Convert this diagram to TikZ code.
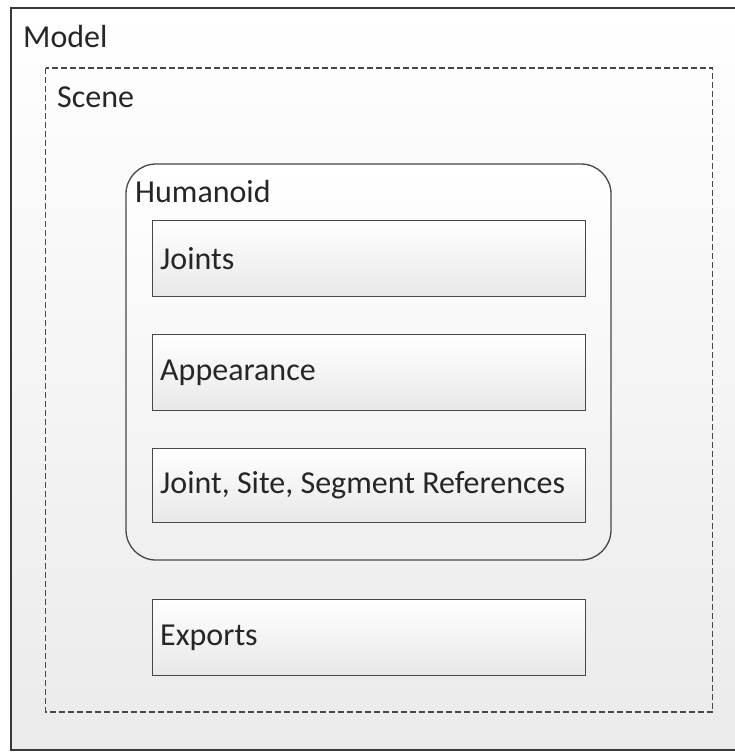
\documentclass[tikz,border=0pt]{standalone}
\usepackage{fontspec}
\setmainfont{Carlito}
\begin{document}
\begin{tikzpicture}[x=1pt,y=-1pt,
  lbl/.style={inner sep=0pt, anchor=base west, text=black!85, font=\fontsize{32}{38}\selectfont},
  itembox/.style={draw=black!72, line width=1.3pt, top color=white, bottom color=black!9, inner sep=0pt},
]
\useasboundingbox (0,0) rectangle (735,754);
\fill[white] (0,0) rectangle (735,754);
% Model
\path[draw=black!78, line width=1.4pt, top color=white, bottom color=black!8] (11,8) rectangle (736,750);
\node[lbl] (modellbl) at (23,48) {Model};
% Scene
\path[draw=black!72, line width=1.3pt, dash pattern=on 6pt off 3pt] (45.5,68) rectangle (712.5,712);
\node[lbl] (scenelbl) at (57,108) {Scene};
% Humanoid
\path[draw=black!72, line width=1.3pt, rounded corners=30pt, top color=white, bottom color=black!6] (126,164) rectangle (611,560);
\node[lbl] (humlbl) at (135,202) {Humanoid};
% inner boxes
\node[itembox, minimum width=433pt, minimum height=76pt, anchor=north west] (joints) at (152,220) {};
\node[itembox, minimum width=433pt, minimum height=76pt, anchor=north west] (app) at (152,334) {};
\node[itembox, minimum width=433pt, minimum height=74pt, anchor=north west] (refs) at (152,448) {};
\node[itembox, minimum width=433pt, minimum height=76pt, anchor=north west] (exports) at (152,599) {};
\node[lbl, anchor=west] (jointslbl) at ([xshift=8pt]joints.west) {Joints};
\node[lbl, anchor=west] (applbl) at ([xshift=8pt]app.west) {Appearance};
\node[lbl, anchor=west] (refslbl) at ([xshift=8pt]refs.west) {Joint, Site, Segment References};
\node[lbl, anchor=west] (exportslbl) at ([xshift=8pt]exports.west) {Exports};
\end{tikzpicture}
\end{document}
